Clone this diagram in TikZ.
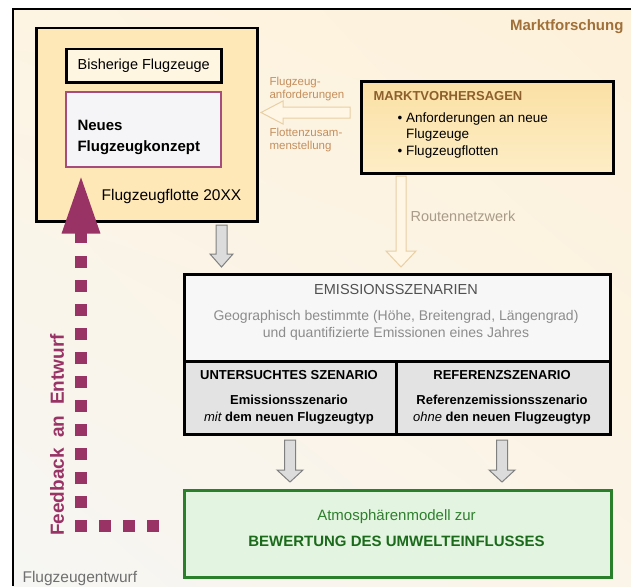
\documentclass[tikz,border=0pt]{standalone}
\usepackage{fontspec}
\setmainfont{Liberation Sans}
\usetikzlibrary{calc,arrows.meta,shadings}

\definecolor{bgA}{HTML}{FDF4E2}
\definecolor{bgB}{HTML}{FDF1DA}
\definecolor{bgC}{HTML}{F6F6F4}
\definecolor{bgD}{HTML}{FBF4E8}
\definecolor{flottefill}{HTML}{FFE8B8}
\definecolor{bisherfill}{HTML}{FFF6E2}
\definecolor{neufill}{HTML}{F5F4F6}
\definecolor{neurand}{HTML}{A64D7E}
\definecolor{marktoben}{HTML}{FBE0A4}
\definecolor{marktunten}{HTML}{FDEDC6}
\definecolor{mfbraun}{HTML}{A07038}
\definecolor{mvbraun}{HTML}{8C5F2C}
\definecolor{lblbraun}{HTML}{C58E5C}
\definecolor{routengrau}{HTML}{A89B88}
\definecolor{tanrand}{HTML}{E9CFA3}
\definecolor{tanfill}{HTML}{FFF6E6}
\definecolor{pfeilgrau}{HTML}{DCDCDC}
\definecolor{pfeilrand}{HTML}{808080}
\definecolor{fblila}{HTML}{993366}
\definecolor{titelgrau}{HTML}{505050}
\definecolor{textgrau}{HTML}{8C8C8C}
\definecolor{emisfill}{HTML}{F7F7F7}
\definecolor{emisgrau}{HTML}{E3E3E3}
\definecolor{gruenrand}{HTML}{2A7F2A}
\definecolor{gruenfill}{HTML}{E3F5E0}
\definecolor{gruentext}{HTML}{2F7F2F}
\definecolor{gruendunkel}{HTML}{1B6A1B}
\definecolor{entwurfgrau}{HTML}{6F6F6F}

% hollow block arrow: style, from, to, body half width, head half width, head length
\newcommand{\blockpfeil}[6]{%
  \coordinate (bp-h) at ($(#3)!#6!(#2)$);
  \filldraw[#1] ($(#2)!#4!90:(#3)$) -- ($(bp-h)!#4!90:(#3)$) -- ($(bp-h)!#5!90:(#3)$)
    -- (#3) -- ($(bp-h)!#5!-90:(#3)$) -- ($(bp-h)!#4!-90:(#3)$) -- ($(#2)!#4!-90:(#3)$) -- cycle;}

\newcommand{\fs}[2]{\fontsize{#1}{#2}\selectfont}

\begin{document}
\begin{tikzpicture}[x=1pt,y=-1pt,
    box/.style={draw=black,line width=2.5pt,anchor=north west,inner sep=0pt},
    tanpfeil/.style={draw=tanrand,fill=tanfill,line width=1pt,line join=miter},
    graupfeil/.style={draw=pfeilrand,fill=pfeilgrau,line width=1pt,line join=miter},
    klein/.style={anchor=west,align=left,text=lblbraun,font=\fs{11.5}{13}},
    feedback/.style={draw=fblila,line width=12pt,dash pattern=on 12pt off 12pt}]

    \useasboundingbox (0,0) rectangle (631,586);
    \shade[upper left=bgA,upper right=bgB,lower left=bgC,lower right=bgD] (13,9) rectangle (631,586);
    \draw[line width=2.5pt] (13,586) -- (13,9) -- (631,9);

    \node[anchor=east,text=mfbraun,font=\bfseries\fs{15}{18}] (forschung) at (627,27) {Marktforschung};

    \node[box,fill=flottefill,minimum width=221pt,minimum height=193pt] (flotte) at (35,27) {};
    \node[box,fill=bisherfill,minimum width=155pt,minimum height=33pt,font=\fs{14.5}{17}] (bisherig) at (65,48) {Bisherige Flugzeuge};
    \node[box,draw=neurand,line width=1.6pt,fill=neufill,minimum width=155pt,minimum height=75pt] (neu) at (65,91) {};
    \node[anchor=west,align=left,font=\bfseries\fs{15}{20.5}] (neutext) at (74,137.5) {Neues\\Flugzeugkonzept};
    \node[font=\fs{15.5}{18}] (flottetext) at (171.5,196) {Flugzeugflotte 20XX};

    \node[box,top color=marktoben,bottom color=marktunten,minimum width=252pt,minimum height=92pt] (markt) at (360,80) {};
    \node[anchor=west,text=mvbraun,font=\bfseries\fs{13}{16}] (markttitel) at (370,96) {MARKTVORHERSAGEN};
    \node[anchor=west,align=left,font=\fs{13.5}{16.5}] (marktliste) at (394,135.5) {• Anforderungen an neue\\\phantom{• }Flugzeuge\\• Flugzeugflotten};

    \node[klein] (forderung) at (266,89) {Flugzeug-\\anforderungen};
    \node[klein] (zusammen) at (266,140) {Flottenzusam-\\menstellung};
    \node[anchor=west,text=routengrau,font=\fs{14.5}{17}] (routen) at (407,216) {Routennetzwerk};

    \node[box,fill=emisfill,minimum width=426pt,minimum height=87pt] (emis) at (183,273) {};
    \node[box,fill=emisgrau,minimum width=212pt,minimum height=73pt] (untersucht) at (183,360) {};
    \node[box,fill=emisgrau,minimum width=214pt,minimum height=73pt] (referenz) at (395,360) {};
    \node[text=titelgrau,font=\fs{14.5}{17}] (emistitel) at (396,290) {EMISSIONSSZENARIEN};
    \node[align=center,text=textgrau,font=\fs{14}{17}] (emistext) at (396,325.5) {Geographisch bestimmte (Höhe, Breitengrad, Längengrad)\\und quantifizierte Emissionen eines Jahres};
    \node[font=\bfseries\fs{13}{16}] (untersuchttitel) at (289,375) {UNTERSUCHTES SZENARIO};
    \node[align=center,font=\bfseries\fs{13}{16.5}] (untersuchttext) at (289,409.5) {Emissionsszenario\\{\mdseries\itshape mit} dem neuen Flugzeugtyp};
    \node[font=\bfseries\fs{13}{16}] (referenztitel) at (502,375) {REFERENZSZENARIO};
    \node[align=center,font=\bfseries\fs{13}{16.5}] (referenztext) at (502,409.5) {Referenzemissionsszenario\\{\mdseries\itshape ohne} den neuen Flugzeugtyp};

    \node[box,draw=gruenrand,fill=gruenfill,minimum width=427pt,minimum height=87pt] (bewertung) at (183,489) {};
    \node[text=gruentext,font=\fs{15}{18}] (atmos) at (396.5,517) {Atmosphärenmodell zur};
    \node[text=gruendunkel,font=\bfseries\fs{15}{18}] (bewertungtext) at (396.5,541) {BEWERTUNG DES UMWELTEINFLUSSES};

    \coordinate (forderung-a) at (350,112.5);
    \coordinate (forderung-b) at (261,112.5);
    \coordinate (routen-a) at (401,176);
    \coordinate (routen-b) at (401,267);
    \coordinate (flotte-a) at (221.5,225);
    \coordinate (flotte-b) at (221.5,267);
    \coordinate (untersucht-a) at (290,440);
    \coordinate (untersucht-b) at (290,482);
    \coordinate (referenz-a) at (502,440);
    \coordinate (referenz-b) at (502,482);
    \blockpfeil{tanpfeil}{forderung-a}{forderung-b}{5.5pt}{11.5pt}{22pt}
    \blockpfeil{tanpfeil}{routen-a}{routen-b}{5pt}{15pt}{16pt}
    \blockpfeil{graupfeil}{flotte-a}{flotte-b}{5.5pt}{11.5pt}{13pt}
    \blockpfeil{graupfeil}{untersucht-a}{untersucht-b}{5.5pt}{13pt}{12pt}
    \blockpfeil{graupfeil}{referenz-a}{referenz-b}{5.5pt}{13pt}{12pt}

    \coordinate (fb-ecke) at (81,526);
    \coordinate (fb-ende) at (159,526);
    \coordinate (fb-punkte) at (81,256);
    \coordinate (fb-stiel) at (81,243);
    \draw[feedback] ([yshift=-6pt]fb-ecke) -- (fb-punkte);
    \draw[feedback] ([xshift=-6pt]fb-ecke) -- (fb-ende);
    \draw[draw=fblila,line width=12pt,shorten >=7pt,-{Triangle[width=35pt,length=59pt]}] (fb-stiel) -- (fb-stiel |- neu.south);
    \node[rotate=90,text=fblila,font=\bfseries\fs{19}{21}] (fbtext) at (57,435) {Feedback\ \ an\ \ Entwurf};

    \node[anchor=west,text=entwurfgrau,font=\fs{15.5}{18}] (entwurf) at (19,578) {Flugzeugentwurf};
\end{tikzpicture}
\end{document}
